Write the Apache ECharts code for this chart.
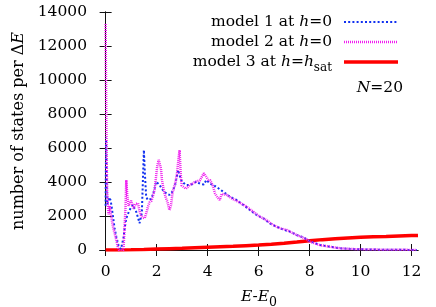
<!DOCTYPE html>
<html>
<head>
<meta charset="utf-8">
<script src="https://cdn.jsdelivr.net/npm/echarts@6/dist/echarts.min.js"></script>
<style>html,body{margin:0;padding:0;background:#fff}#c{width:436px;height:307px}</style>
</head>
<body>
<div id="c"></div>
<script>
// ---- data ----
const xTicks = [0, 2, 4, 6, 8, 10, 12];
const yTicks = [0, 2000, 4000, 6000, 8000, 10000, 12000, 14000];

const model1 = [
  [0.0, 2600], [0.02, 6600], [0.04, 4300], [0.07, 2700], [0.1, 2900], [0.15, 3100], [0.2, 2900],
  [0.25, 2400], [0.29, 1960], [0.35, 1300], [0.42, 780], [0.5, 300], [0.55, 190], [0.6, 50],
  [0.65, 0], [0.7, 700], [0.75, 1300], [0.81, 1860], [0.87, 2100], [0.94, 2350], [1.0, 2500],
  [1.07, 2650], [1.13, 2450], [1.2, 2250], [1.27, 1900], [1.33, 1570], [1.38, 1900], [1.42, 2160],
  [1.46, 4000], [1.5, 5880], [1.54, 4500], [1.59, 3140], [1.65, 2950], [1.72, 2840], [1.78, 3000],
  [1.85, 3240], [1.92, 3600], [1.98, 4020], [2.05, 3950], [2.12, 3820], [2.2, 3600], [2.31, 3430],
  [2.4, 3300], [2.51, 3240], [2.6, 3400], [2.71, 3720], [2.78, 4200], [2.84, 4700], [2.9, 4400],
  [2.96, 4120], [3.05, 3950], [3.16, 3820], [3.3, 3820], [3.45, 3900], [3.55, 4020], [3.7, 3900],
  [3.85, 3850], [3.95, 4120], [4.1, 3900], [4.25, 3800], [4.42, 3630], [4.61, 3430], [4.87, 3140],
  [5.14, 2940], [5.4, 2650], [5.66, 2350], [5.92, 2060], [6.18, 1860], [6.44, 1570], [6.7, 1370],
  [6.97, 1200], [7.23, 1080], [7.49, 880], [7.75, 750], [8.0, 520], [8.4, 300], [8.8, 190],
  [9.2, 100], [9.6, 60], [10.0, 40], [10.5, 25], [11.0, 15], [11.5, 10], [12.0, 5], [12.2, 3]
];

const model2 = [
  [0.0, 13300], [0.02, 9000], [0.04, 5500], [0.06, 3500], [0.09, 2500], [0.12, 2100], [0.16, 2600],
  [0.2, 2200], [0.25, 1700], [0.29, 1370], [0.35, 1000], [0.42, 590], [0.48, 150], [0.52, 0],
  [0.6, 0], [0.7, 0], [0.76, 100], [0.78, 2500], [0.81, 4120], [0.85, 3200], [0.9, 2600],
  [0.94, 2550], [1.0, 2900], [1.05, 2850], [1.1, 2450], [1.17, 2700], [1.27, 2750], [1.33, 2300],
  [1.4, 1960], [1.47, 2000], [1.53, 1860], [1.6, 2200], [1.66, 2550], [1.72, 2800], [1.8, 2900],
  [1.86, 3200], [1.92, 3530], [1.97, 4200], [2.02, 4900], [2.08, 5300], [2.12, 5390], [2.17, 4800],
  [2.21, 4120], [2.27, 3600], [2.31, 3330], [2.38, 3000], [2.44, 2750], [2.5, 2350], [2.56, 2600],
  [2.62, 3300], [2.68, 3700], [2.73, 3920], [2.8, 4500], [2.86, 5400], [2.9, 5880], [2.94, 4600],
  [2.98, 3800], [3.05, 3750], [3.15, 3600], [3.29, 3820], [3.4, 3900], [3.5, 4000], [3.6, 4050],
  [3.7, 4100], [3.76, 4120], [3.85, 4510], [3.93, 4350], [4.02, 4120], [4.1, 4100], [4.2, 3800],
  [4.29, 3330], [4.38, 3100], [4.48, 2940], [4.55, 3300], [4.62, 3200], [4.75, 3240], [4.94, 3040],
  [5.2, 2840], [5.53, 2550], [5.79, 2250], [6.05, 1960], [6.31, 1760], [6.57, 1470], [6.84, 1280],
  [7.1, 1180], [7.36, 980], [7.62, 800], [7.88, 630], [8.01, 490], [8.4, 290], [8.8, 190],
  [9.19, 100], [9.6, 60], [9.97, 40], [10.75, 20], [11.5, 10], [12.2, 5]
];

const model3 = [
  [0, 0], [0.5, 5], [1, 15], [1.5, 30], [2, 60], [2.5, 80], [3, 100], [3.5, 130], [4, 160],
  [4.5, 190], [5, 220], [5.5, 255], [6, 290], [6.5, 340], [7, 400], [7.5, 470], [8, 550],
  [8.5, 610], [9, 660], [9.5, 710], [10, 750], [10.5, 780], [11, 800], [11.5, 830], [12, 850],
  [12.25, 860]
];

const seriesNames = ['model 1 at h=0', 'model 2 at h=0', 'model 3 at h=hsat'];

// ---- chart ----
const FONT = 'DejaVu Serif';
const FS = 15.5;
const chart = echarts.init(document.getElementById('c'), null, { renderer: 'canvas' });

const axisLine = { show: true, lineStyle: { color: '#111', width: 1 } };
const tick = { show: true, inside: true, length: 6, lineStyle: { color: '#111', width: 1 } };

const legendRows = [
  { y: 22, text: 'model 1 at {i|h}=0', color: '#1030f0', dash: [2, 2.2], width: 2 },
  { y: 42, text: 'model 2 at {i|h}=0', color: '#f020f0', dash: [1, 1], width: 2.5 },
  { y: 62, text: 'model 3 at {i|h}={i|h}{sub|sat}', color: '#ff0000', dash: null, width: 3.5 }
];
const richBase = {
  i: { fontFamily: FONT, fontStyle: 'italic', fontSize: FS, lineHeight: 24, color: '#000' },
  sub: { fontFamily: FONT, fontSize: 12, lineHeight: 12, verticalAlign: 'bottom', color: '#000' }
};

const graphics = [];
legendRows.forEach(r => {
  graphics.push({
    type: 'text', right: 436 - 332, top: r.y - 12,
    style: { text: r.text, fontFamily: FONT, fontSize: FS, lineHeight: 24, fill: '#000',
      align: 'right', rich: richBase }
  });
  graphics.push({
    type: 'line', shape: { x1: 344, y1: r.y, x2: 398, y2: r.y },
    style: { stroke: r.color, lineWidth: r.width, lineDash: r.dash }
  });
});
graphics.push({
  type: 'text', right: 436 - 403, top: 80,
  style: { text: '{i|N}=20', fontFamily: FONT, fontSize: FS, fill: '#000', rich: {
    i: { fontFamily: FONT, fontStyle: 'italic', fontSize: FS, color: '#000' } } }
});

chart.setOption({
  backgroundColor: '#fff',
  animation: false,
  grid: { left: 100, right: 18, top: 12, bottom: 57, containLabel: false, outerBoundsMode: 'none' },
  xAxis: [{
    type: 'value', min: -0.22, max: 12.25,
    axisLine, axisTick: Object.assign({ customValues: xTicks }, tick),
    splitLine: { show: false },
    axisLabel: { customValues: xTicks, margin: 14, fontFamily: FONT, fontSize: FS, color: '#000' },
    name: '{i|E}-{i|E}{sub|0}', nameLocation: 'middle', nameGap: 32,
    nameTextStyle: { fontFamily: FONT, fontSize: FS, lineHeight: 24, color: '#000',
      rich: { i: richBase.i, sub: { fontFamily: FONT, fontSize: 12.5, lineHeight: 12, verticalAlign: 'bottom', color: '#000' } } }
  }, {
    type: 'value', position: 'top', min: -0.22, max: 12.25,
    axisLine, axisTick: Object.assign({ customValues: xTicks }, tick),
    axisLabel: { show: false }, splitLine: { show: false }
  }],
  yAxis: [{
    type: 'value', min: 0, max: 14000, interval: 2000,
    axisLine, axisTick: tick, splitLine: { show: false },
    axisLabel: { margin: 13, fontFamily: FONT, fontSize: FS, color: '#000', formatter: v => String(v) },
    name: 'number of states per Δ{i|E}', nameLocation: 'middle', nameGap: 60,
    nameTextStyle: { fontFamily: FONT, fontSize: 16, color: '#000',
      rich: { i: { fontFamily: FONT, fontStyle: 'italic', fontSize: 16, color: '#000' } } }
  }, {
    type: 'value', position: 'right', min: 0, max: 14000, interval: 2000,
    axisLine, axisTick: tick, axisLabel: { show: false }, splitLine: { show: false }
  }],
  series: [
    { name: seriesNames[2], type: 'line', data: model3, showSymbol: false, clip: true, z: 2,
      lineStyle: { color: '#ff0000', width: 3.5 } },
    { name: seriesNames[0], type: 'line', data: model1, showSymbol: false, clip: true, z: 3,
      lineStyle: { color: '#1030f0', width: 2, type: [2, 2.2] } },
    { name: seriesNames[1], type: 'line', data: model2, showSymbol: false, clip: true, z: 4,
      lineStyle: { color: '#f020f0', width: 2.5, type: [1, 1] } }
  ],
  graphic: graphics
});
</script>
</body>
</html>
